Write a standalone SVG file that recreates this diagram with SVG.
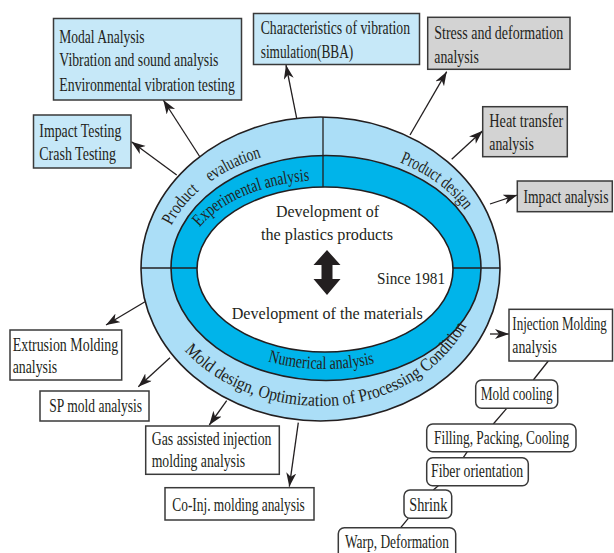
<svg xmlns="http://www.w3.org/2000/svg" width="614" height="553" viewBox="0 0 614 553">
<style>
.t{font-family:"Liberation Serif","Times New Roman",serif;font-size:18px;fill:#231f20}
.c{font-family:"Liberation Serif","Times New Roman",serif;font-size:16px;fill:#231f20}
.bb{fill:#c6e8f8;stroke:#3a3a3a;stroke-width:1.5}
.bg{fill:#d3d3d3;stroke:#3a3a3a;stroke-width:1.5}
.bw{fill:#ffffff;stroke:#3a3a3a;stroke-width:1.5}
.rr{fill:#ffffff;stroke:#3a3a3a;stroke-width:1.5}
.ar{stroke:#231f20;stroke-width:1.3;fill:none;marker-end:url(#ah)}
.ln{stroke:#231f20;stroke-width:1.3;fill:none}
.el{stroke:#231f20;stroke-width:1.6}
</style>
<defs>
<marker id="ah" markerUnits="userSpaceOnUse" markerWidth="16" markerHeight="12" refX="14" refY="5" orient="auto">
<path d="M0,0 L14,5 L0,10 L4,5 z" fill="#231f20"/>
</marker>
<path id="pTop" d="M161,268 A162,120 0 0 1 485,268"/>
<path id="pExp" d="M183,269 A142,89 0 0 1 467,269"/>
<path id="pNum" d="M175,268 A150,101 0 0 0 475,268"/>
<path id="pMold" d="M151,269 A170,137 0 0 0 321,406 A160,137 0 0 0 481,269"/>
</defs>

<g id="ring">
<ellipse class="el" cx="320.5" cy="269" rx="179.5" ry="152" fill="#abdef7"/>
<ellipse class="el" cx="326" cy="268" rx="155" ry="112.5" fill="#00b4ea"/>
<ellipse class="el" cx="325" cy="269.5" rx="128" ry="82.5" fill="#ffffff"/>
<line class="ln" x1="323" y1="117" x2="323" y2="187"/>
<line class="ln" x1="141" y1="268" x2="197" y2="268"/>
<line class="ln" x1="453" y1="268" x2="500" y2="268"/>
<text class="t"><textPath href="#pTop" startOffset="44" textLength="45" lengthAdjust="spacingAndGlyphs">Product</textPath></text>
<text class="t"><textPath href="#pTop" startOffset="103" textLength="57" lengthAdjust="spacingAndGlyphs">evaluation</textPath></text>
<text class="t"><textPath href="#pTop" startOffset="301" textLength="82" lengthAdjust="spacingAndGlyphs">Product design</textPath></text>
<text class="t"><textPath href="#pExp" startOffset="46" textLength="122" lengthAdjust="spacingAndGlyphs">Experimental analysis</textPath></text>
<text class="t"><textPath href="#pNum" startOffset="141" textLength="108" lengthAdjust="spacingAndGlyphs">Numerical analysis</textPath></text>
<text class="t"><textPath href="#pMold" startOffset="90" textLength="326" lengthAdjust="spacingAndGlyphs">Mold design, Optimization of Processing Condition</textPath></text>
</g>

<g id="center">
<text class="c" x="276" y="216.7" textLength="103" lengthAdjust="spacingAndGlyphs">Development of</text>
<text class="c" x="261" y="240" textLength="132" lengthAdjust="spacingAndGlyphs">the plastics products</text>
<path d="M327,250 L340.5,265 L332.5,265 L332.5,279 L340.5,279 L327,295 L313.5,279 L321.5,279 L321.5,265 L313.5,265 z" fill="#231f20"/>
<text class="c" x="377" y="284" textLength="68" lengthAdjust="spacingAndGlyphs">Since 1981</text>
<text class="c" x="231.7" y="319" textLength="191" lengthAdjust="spacingAndGlyphs">Development of the materials</text>
</g>

<g id="connectors">
<line class="ar" x1="200" y1="157" x2="163.3" y2="100"/>
<line class="ar" x1="176.7" y1="175" x2="131.5" y2="141.7"/>
<line class="ar" x1="296.7" y1="118.3" x2="286" y2="65"/>
<line class="ar" x1="410" y1="135" x2="446.7" y2="71.7"/>
<line class="ar" x1="451.7" y1="159.3" x2="482.7" y2="130.7"/>
<line class="ar" x1="490" y1="204" x2="517.3" y2="195"/>
<line class="ar" x1="145" y1="301.7" x2="106" y2="325"/>
<line class="ar" x1="170" y1="357.7" x2="138.3" y2="386.7"/>
<line class="ar" x1="226.7" y1="400.7" x2="209.3" y2="425"/>
<line class="ar" x1="298.3" y1="422.7" x2="289.3" y2="486.7"/>
<line class="ar" x1="490" y1="334" x2="509" y2="334"/>
<line class="ln" x1="548.3" y1="361" x2="533.3" y2="380"/>
<line class="ln" x1="506.7" y1="408.3" x2="493.3" y2="424"/>
<line class="ln" x1="467.3" y1="451.7" x2="463.3" y2="457.7"/>
<line class="ln" x1="438.3" y1="485.7" x2="433.3" y2="490"/>
<line class="ln" x1="408.3" y1="518.3" x2="400.7" y2="527.7"/>
</g>

<g id="modal">
<rect class="bb" x="53.5" y="18.5" width="188" height="81.5"/>
<text class="t" transform="translate(59.3,42.7) scale(0.751,1)">Modal Analysis</text>
<text class="t" transform="translate(59.3,66) scale(0.764,1)">Vibration and sound analysis</text>
<text class="t" transform="translate(59.3,90.7) scale(0.767,1)">Environmental vibration testing</text>
</g>
<g id="impact-testing">
<rect class="bb" x="33.5" y="115" width="97.5" height="53"/>
<text class="t" transform="translate(39.3,136.7) scale(0.768,1)">Impact Testing</text>
<text class="t" transform="translate(39.3,160) scale(0.776,1)">Crash Testing</text>
</g>
<g id="bba">
<rect class="bb" x="253.5" y="13.5" width="166" height="51"/>
<text class="t" transform="translate(260.7,34) scale(0.762,1)">Characteristics of vibration</text>
<text class="t" transform="translate(260.7,57.5) scale(0.741,1)">simulation(BBA)</text>
</g>
<g id="stress">
<rect class="bg" x="427.7" y="17.3" width="142.3" height="52"/>
<text class="t" transform="translate(434.3,39.3) scale(0.777,1)">Stress and deformation</text>
<text class="t" transform="translate(434.3,62.7) scale(0.767,1)">analysis</text>
</g>
<g id="heat">
<rect class="bg" x="482.7" y="106.7" width="84.6" height="50"/>
<text class="t" transform="translate(489.3,126.7) scale(0.792,1)">Heat transfer</text>
<text class="t" transform="translate(489.3,150) scale(0.767,1)">analysis</text>
</g>
<g id="impact-analysis">
<rect class="bg" x="517.3" y="181" width="95" height="30.7"/>
<text class="t" transform="translate(523.5,203.3) scale(0.756,1)">Impact analysis</text>
</g>
<g id="extrusion">
<rect class="bw" x="10" y="330" width="111.7" height="50"/>
<text class="t" transform="translate(12.7,350.7) scale(0.774,1)">Extrusion Molding</text>
<text class="t" transform="translate(12.7,373.3) scale(0.767,1)">analysis</text>
</g>
<g id="sp">
<rect class="bw" x="40" y="391" width="109" height="30"/>
<text class="t" transform="translate(49.3,411.7) scale(0.752,1)">SP mold analysis</text>
</g>
<g id="gas">
<rect class="bw" x="145.7" y="426" width="133.6" height="48.3"/>
<text class="t" transform="translate(151.7,445) scale(0.769,1)">Gas assisted injection</text>
<text class="t" transform="translate(151.7,466.7) scale(0.762,1)">molding analysis</text>
</g>
<g id="coinj">
<rect class="bw" x="165" y="487.7" width="149" height="32.3"/>
<text class="t" transform="translate(172.3,510.7) scale(0.743,1)">Co-Inj. molding analysis</text>
</g>
<g id="injection">
<rect class="bw" x="509" y="309.3" width="103.5" height="51.7"/>
<text class="t" transform="translate(512.3,330) scale(0.725,1)">Injection Molding</text>
<text class="t" transform="translate(512.3,353.3) scale(0.767,1)">analysis</text>
</g>
<g id="mold-cooling">
<rect class="rr" x="475.7" y="380" width="82" height="28.3" rx="6"/>
<text class="t" transform="translate(480.7,400) scale(0.738,1)">Mold cooling</text>
</g>
<g id="filling">
<rect class="rr" x="426.7" y="424" width="149.3" height="27.7" rx="6"/>
<text class="t" transform="translate(434,444) scale(0.743,1)">Filling, Packing, Cooling</text>
</g>
<g id="fiber">
<rect class="rr" x="426.7" y="457.7" width="101.6" height="28" rx="6"/>
<text class="t" transform="translate(431,477.3) scale(0.766,1)">Fiber orientation</text>
</g>
<g id="shrink">
<rect class="rr" x="404" y="490" width="47.7" height="28.3" rx="6"/>
<text class="t" transform="translate(409.3,510.7) scale(0.792,1)">Shrink</text>
</g>
<g id="warp">
<rect class="rr" x="338.3" y="527.7" width="117.4" height="35" rx="6"/>
<text class="t" transform="translate(345,548.3) scale(0.745,1)">Warp, Deformation</text>
</g>
</svg>
